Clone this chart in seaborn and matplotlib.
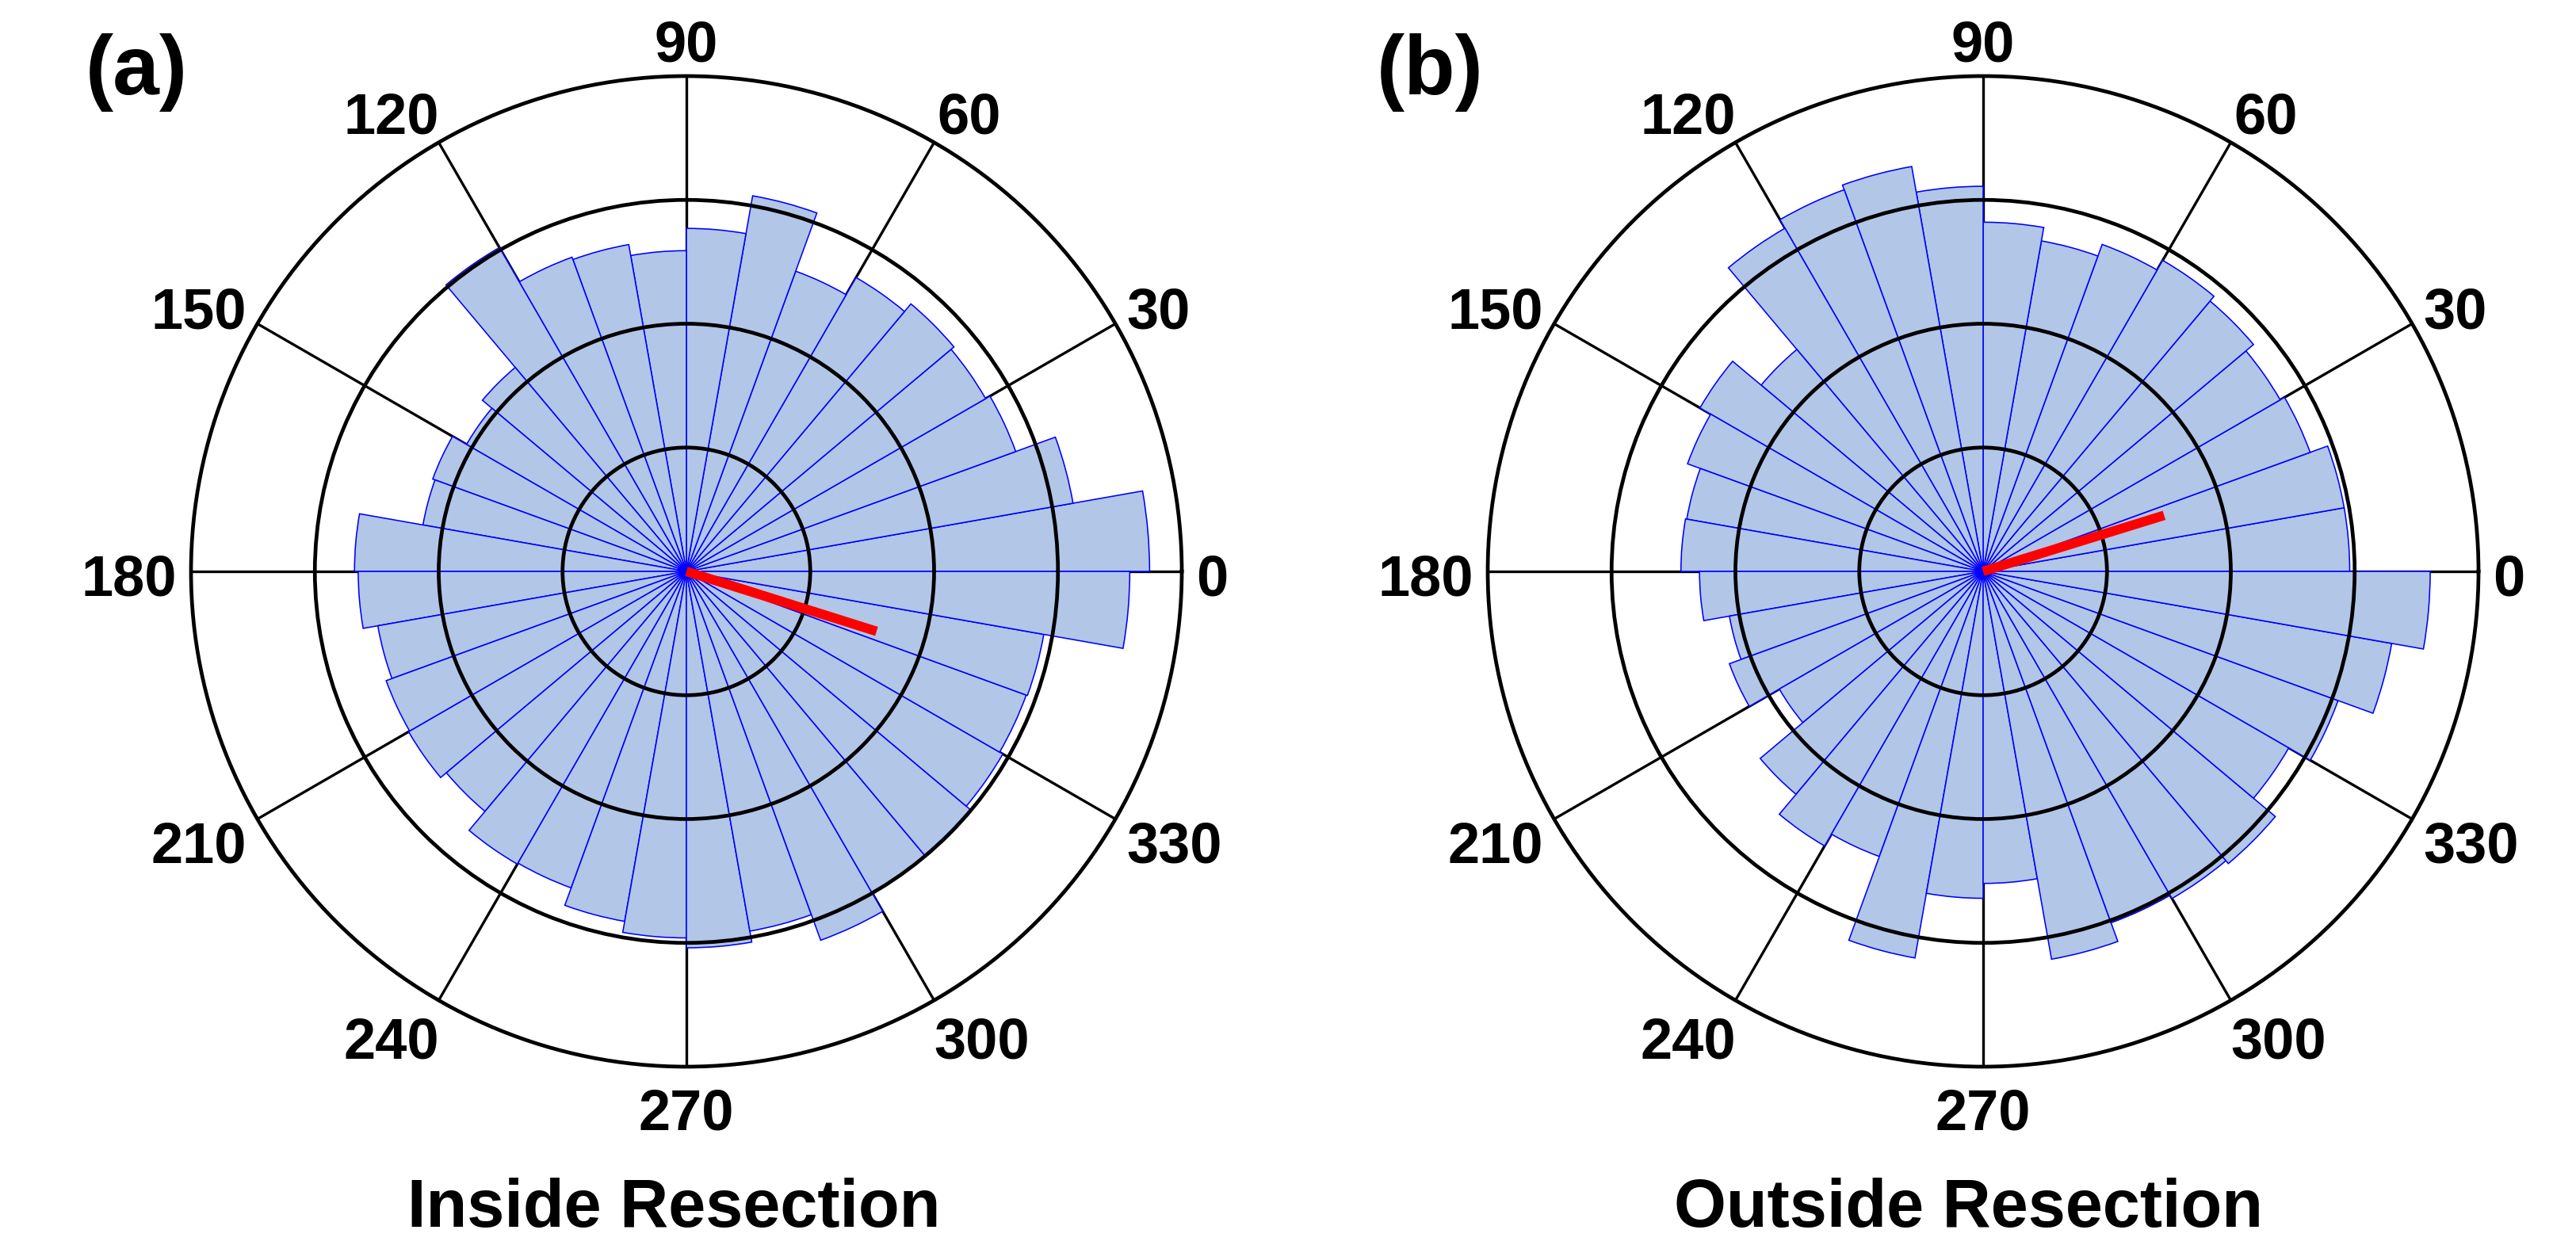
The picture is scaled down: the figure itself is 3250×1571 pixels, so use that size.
import numpy as np
import pandas as pd
import matplotlib
matplotlib.use("Agg")
import matplotlib.pyplot as plt
import matplotlib.transforms as mtransforms
import seaborn as sns

# ---------------- data ----------------
bin_start_deg = list(range(0, 360, 10))          # 36 bins of 10 degrees
bin_width_deg = 10

inside_values = [3.74, 3.17, 2.83, 2.79, 2.82, 2.74, 2.58, 3.08, 2.77,
                 2.59, 2.68, 2.70, 3.02, 2.15, 2.05, 2.18, 2.16, 2.68,
                 2.65, 2.53, 2.58, 2.59, 2.53, 2.73, 2.72, 2.87, 2.96,
                 3.04, 2.95, 3.17, 3.00, 2.99, 2.95, 2.92, 2.93, 3.58]

outside_values = [2.96, 2.96, 2.81, 2.77, 2.85, 2.90, 2.81, 2.71, 2.82,
                  3.11, 3.32, 3.28, 3.20, 2.34, 2.64, 2.54, 2.43, 2.44,
                  2.29, 2.08, 2.18, 1.90, 2.35, 2.56, 2.45, 3.17, 2.64,
                  2.52, 3.18, 3.02, 3.05, 3.08, 2.85, 3.05, 3.35, 3.61]

mean_angle_deg = [342.5, 17.2]
mean_length = [1.61, 1.53]

theta_tick_deg = list(range(0, 360, 30))
theta_tick_labels = ["0", "30", "60", "90", "120", "150",
                     "180", "210", "240", "270", "300", "330"]
ring_values = [1, 2, 3]
r_max = 4

panel_letters = ["(a)", "(b)"]
panel_titles = ["Inside Resection", "Outside Resection"]

# ---------------- style ----------------
sns.set_theme(style="white", rc={
    "text.color": "black", "axes.labelcolor": "black",
    "xtick.color": "black", "ytick.color": "black",
    "axes.edgecolor": "black",
})
plt.rcParams["font.family"] = ["Liberation Sans", "DejaVu Sans"]
plt.rcParams["font.weight"] = "bold"

FILL = "#b2c6e7"
EDGE = "#0000ff"
DPI = 100
W, H = 3250, 1571
fig = plt.figure(figsize=(W / DPI, H / DPI), dpi=DPI)

centers_px = [(866, 721), (2502, 721)]
radius_px = 625
title_x_px = [850, 2483]
letter_x_px = [108, 1737]

TICK_FS = 52
em_px = TICK_FS * DPI / 72.0
digit_w = 0.556 * em_px
cap_h = 0.716 * em_px
PAD_SIDE, PAD_TOP, PAD_BOT, GAP = 10, 20, 10, 8

for i, values in enumerate([inside_values, outside_values]):
    cx, cy = centers_px[i]
    ax = fig.add_axes([(cx - radius_px) / W, (H - cy - radius_px) / H,
                       2 * radius_px / W, 2 * radius_px / H],
                      projection="polar")
    df = pd.DataFrame({
        "theta": np.deg2rad(np.array(bin_start_deg) + bin_width_deg / 2),
        "count": values,
    })
    sns.barplot(data=df, x="theta", y="count", native_scale=True, width=1,
                color=FILL, edgecolor=EDGE, linewidth=1.15, saturation=1,
                errorbar=None, ax=ax)

    ax.set_theta_zero_location("E")
    ax.set_theta_direction(1)
    ax.set_xlim(0, 2 * np.pi)
    ax.set_ylim(0, r_max)
    ax.set_yticks(ring_values)
    ax.set_yticklabels([])
    ax.set_thetagrids(theta_tick_deg, labels=[""] * len(theta_tick_deg))
    ax.set_xlabel("")
    ax.set_ylabel("")

    ax.set_axisbelow(True)
    ax.xaxis.grid(True, color="black", linewidth=2.4)
    ax.yaxis.grid(True, color="black", linewidth=3.4)
    ax.yaxis.set_zorder(2.6)
    ax.spines["polar"].set_color("black")
    ax.spines["polar"].set_linewidth(3.4)

    # angle labels placed just outside the outer circle
    for deg, lab in zip(theta_tick_deg, theta_tick_labels):
        c, s = np.cos(np.deg2rad(deg)), np.sin(np.deg2rad(deg))
        c = 0.0 if abs(c) < 1e-9 else c
        s = 0.0 if abs(s) < 1e-9 else s
        gw = len(lab) * digit_w
        bw = gw + 2 * PAD_SIDE
        bh = cap_h + PAD_TOP + PAD_BOT
        ax_x, ax_y = (radius_px + GAP) * c, (radius_px + GAP) * s
        fx = (1 - np.cbrt(c)) / 2
        box_left = ax_x - fx * bw
        gx = box_left + bw / 2
        box_bottom = ax_y - bh * (1 - s) / 2
        base_y = box_bottom + PAD_BOT
        dx, dy = gx - radius_px * c, base_y - radius_px * s
        tr = ax.transData + mtransforms.ScaledTranslation(
            dx / DPI, dy / DPI, fig.dpi_scale_trans)
        ax.text(np.deg2rad(deg), r_max, lab, transform=tr, ha="center",
                va="baseline", fontsize=TICK_FS, fontweight="bold",
                clip_on=False)

    th = np.deg2rad(mean_angle_deg[i])
    ax.plot([th, th], [0, mean_length[i]], color="red", linewidth=8.6,
            solid_capstyle="butt", zorder=6)

    fig.text(letter_x_px[i] / W, 1 - 42 / H, panel_letters[i],
             ha="left", va="top", fontsize=76, fontweight="bold")
    fig.text(title_x_px[i] / W, 23 / H, panel_titles[i],
             ha="center", va="baseline", fontsize=61, fontweight="bold")

fig.savefig("out.png", dpi=DPI)
